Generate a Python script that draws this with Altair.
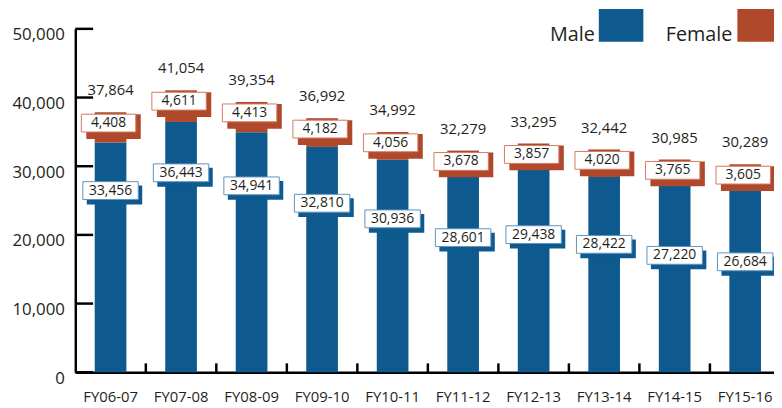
import altair as alt
import pandas as pd

# ---- data ----
categories = ["FY06-07", "FY07-08", "FY08-09", "FY09-10", "FY10-11",
              "FY11-12", "FY12-13", "FY13-14", "FY14-15", "FY15-16"]
male = [33456, 36443, 34941, 32810, 30936, 28601, 29438, 28422, 27220, 26684]
female = [4408, 4611, 4413, 4182, 4056, 3678, 3857, 4020, 3765, 3605]
series = ["Male", "Female"]
y_ticks = [0, 10000, 20000, 30000, 40000, 50000]

BLUE = "#0e5a8f"
RED = "#b0482c"
BLUE_EDGE = "#5d93bf"
RED_EDGE = "#d47a62"
INK = "#231f20"
FONT = "Open Sans"

W, H = 706, 347
STEP_RANGE = 712.5

df = pd.DataFrame({"cat": categories, "male": male, "female": female})
df["total"] = df["male"] + df["female"]
df["i"] = range(len(df))
# male labels sit lower in the bar as the series goes on
df["male_label_at"] = df["male"] - 7000 - 400 * df["i"]

x_axis = alt.Axis(title=None, ticks=False, domainColor="black", domainWidth=2.5,
                  labelFontSize=15, labelColor=INK, labelFont=FONT,
                  labelAngle=0, labelPadding=18, grid=False)
x_scale = alt.Scale(range=[0, STEP_RANGE], paddingInner=0, paddingOuter=0)
x_enc = alt.X("cat:N", sort=categories, scale=x_scale, axis=x_axis)

y_axis = alt.Axis(title=None, values=y_ticks, format=",d", ticks=False,
                  domainColor="black", domainWidth=2.5, grid=False,
                  labelFontSize=17, labelColor=INK, labelFont=FONT,
                  labelPadding=11, labelOffset=6)
y_scale = alt.Scale(domain=[0, 50000], nice=False)


def Y(field):
    return alt.Y(field, scale=y_scale, axis=y_axis)


base = alt.Chart(df)

male_bar = base.mark_bar(size=32, color=BLUE).encode(x=x_enc, y=Y("male:Q"))
female_bar = base.mark_bar(size=32, color=RED).encode(
    x=x_enc, y=Y("male:Q"), y2="total:Q")

f_shadow = base.mark_bar(size=55, color=RED, xOffset=3, yOffset=2, y2Offset=27).encode(
    x=x_enc, y=Y("total:Q"), y2="total:Q")
f_box = base.mark_bar(size=55, fill="white", stroke=RED_EDGE, strokeWidth=1,
                      xOffset=-2, yOffset=2, y2Offset=20).encode(
    x=x_enc, y=Y("total:Q"), y2="total:Q")
f_text = base.mark_text(fontSize=14, font=FONT, color=INK, baseline="middle",
                        xOffset=-2, yOffset=11).encode(
    x=x_enc, y=Y("total:Q"), text=alt.Text("female:Q", format=","))

m_shadow = base.mark_bar(size=56, color=BLUE, xOffset=4, yOffset=-5, y2Offset=14).encode(
    x=x_enc, y=Y("male_label_at:Q"), y2="male_label_at:Q")
m_box = base.mark_bar(size=56, fill="white", stroke=BLUE_EDGE, strokeWidth=1,
                      yOffset=-9, y2Offset=9).encode(
    x=x_enc, y=Y("male_label_at:Q"), y2="male_label_at:Q")
m_text = base.mark_text(fontSize=14, font=FONT, color=INK, baseline="middle").encode(
    x=x_enc, y=Y("male_label_at:Q"), text=alt.Text("male:Q", format=","))

t_text = base.mark_text(fontSize=15, font=FONT, color=INK, baseline="middle",
                        yOffset=-22).encode(
    x=x_enc, y=Y("total:Q"), text=alt.Text("total:Q", format=","))

# inward y ticks
tick_df = pd.DataFrame({"v": y_ticks})
y_tick_rules = alt.Chart(tick_df).mark_rule(color="black", strokeWidth=2.5).encode(
    y=Y("v:Q"), x=alt.value(0), x2=alt.value(18))

# upward x ticks at band boundaries
x_tick_rules = alt.Chart(df[df["i"] > 0]).mark_rule(color="black", strokeWidth=2.5).encode(
    x=alt.X("cat:N", sort=categories, scale=x_scale, axis=x_axis, bandPosition=0),
    y=alt.value(H - 9), y2=alt.value(H))

# legend (label left of swatch)
male_leg = alt.Chart(pd.DataFrame({"s": [series[0]]}))
female_leg = alt.Chart(pd.DataFrame({"s": [series[1]]}))
leg = (
    male_leg.mark_rect(color=BLUE).encode(x=alt.value(529), x2=alt.value(574),
                                          y=alt.value(-20), y2=alt.value(13))
    + male_leg.mark_text(fontSize=20, font=FONT, color=INK, align="right",
                         baseline="alphabetic").encode(
        x=alt.value(525), y=alt.value(12), text="s:N")
    + female_leg.mark_rect(color=RED).encode(x=alt.value(669), x2=alt.value(714),
                                             y=alt.value(-20), y2=alt.value(13))
    + female_leg.mark_text(fontSize=20, font=FONT, color=INK, align="right",
                           baseline="alphabetic").encode(
        x=alt.value(664), y=alt.value(12), text="s:N")
)

chart = alt.layer(
    male_bar, female_bar, f_shadow, f_box, f_text,
    m_shadow, m_box, m_text, t_text, y_tick_rules, x_tick_rules, leg
).properties(
    width=W, height=H,
    padding={"left": 68, "top": 19, "right": 0, "bottom": 31},
    autosize=alt.AutoSizeParams(type="none"),
).configure(font=FONT).configure_view(stroke=None)

chart.save("out.html", embed_options={"renderer": "svg", "actions": False})
